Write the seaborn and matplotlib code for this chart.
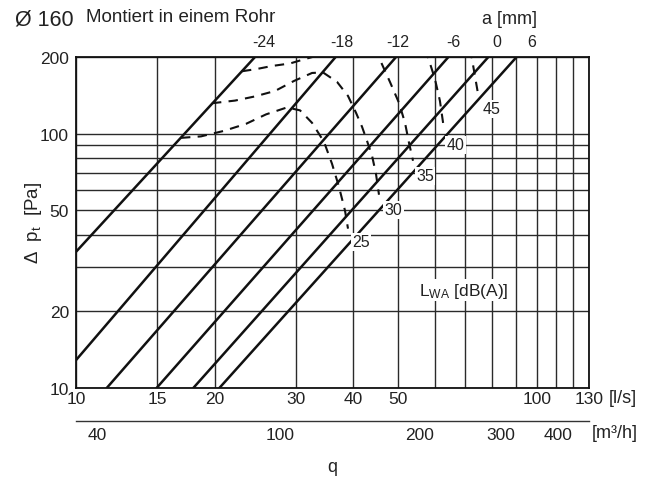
import numpy as np
import pandas as pd
import matplotlib
matplotlib.use("Agg")
import matplotlib.pyplot as plt
import seaborn as sns
from matplotlib.ticker import FixedLocator, FixedFormatter, NullFormatter

# ---------------- data ----------------
a_settings = ["-24", "-18", "-12", "-6", "0", "6"]
line_q_start = [10.0, 10.0, 11.66, 14.96, 17.97, 20.47]
line_dp_start = [34.3, 12.87, 10.0, 10.0, 10.0, 10.0]
line_q_end = [24.46, 36.6, 49.5, 64.3, 78.5, 90.4]
line_dp_end = [200.0, 200.0, 200.0, 200.0, 200.0, 200.0]
a_label_q = [25.5, 37.7, 50.0, 65.9, 81.8, 97.5]

lwa_levels = ["25", "30", "35", "40", "45"]
lwa25_q = [16.9, 18.67, 20.95, 23.38, 25.85, 28.7, 30.63, 32.53, 34.53, 35.94, 37.21, 38.35, 38.93]
lwa25_dp = [96.2, 97.5, 102.5, 109.2, 119.0, 126.7, 123.4, 110.2, 92.8, 76.1, 61.8, 49.8, 42.3]
lwa30_q = [19.73, 22.13, 24.46, 27.04, 29.72, 32.53, 34.36, 36.86, 38.93, 40.53, 41.76, 42.81, 43.9, 44.77, 45.45]
lwa30_dp = [131.6, 134.8, 140.0, 147.1, 161.0, 173.1, 173.9, 159.6, 140.6, 120.6, 106.3, 93.6, 81.8, 69.5, 57.5]
lwa35_q = [22.92, 24.71, 26.63, 29.13, 31.41, 33.18, 38.35, 45.22, 45.9, 48.01, 50.23, 51.76, 52.81, 53.87]
lwa35_dp = [175.8, 179.5, 184.4, 188.6, 196.4, 201.8, 224.9, 201.8, 191.2, 159.6, 132.0, 110.2, 91.9, 78.2]
lwa40_q = [57.47, 58.05, 60.11, 61.63, 62.88]
lwa40_dp = [215.0, 200.0, 163.9, 134.4, 104.4]
lwa45_q = [71.61, 72.34, 74.56]
lwa45_dp = [215.0, 196.4, 143.2]
lwa_label_q = [41.5, 48.8, 57.2, 66.5, 79.6]
lwa_label_dp = [37.6, 50.2, 68.3, 90.3, 125.0]

x_major = [10, 15, 20, 30, 40, 50, 100, 130]
x_minor = [60, 70, 80, 90, 110, 120]
y_major = [10, 20, 50, 100, 200]
y_minor = [30, 40, 60, 70, 80, 90]
m3h_labels = [40, 100, 200, 300, 400]
m3h_long = [40, 50, 100, 150, 200, 250, 300, 350, 400, 450]
m3h_short = [v for v in range(60, 470, 10) if v not in m3h_long]

# ---------------- style ----------------
sns.set_theme(style="white")
plt.rcParams["font.family"] = ["Liberation Sans", "DejaVu Sans"]
plt.rcParams["mathtext.fontset"] = "custom"
plt.rcParams["mathtext.rm"] = "Liberation Sans"
plt.rcParams["mathtext.it"] = "Liberation Sans"
TXT = "#222222"
LINE = "#111111"
FS = 12.5

W, H = 656, 485
fig = plt.figure(figsize=(W / 100, H / 100), dpi=100)
L, R, T, B = 76, 589.3, 58, 389
ax = fig.add_axes([L / W, 1 - B / H, (R - L) / W, (B - T) / H])
ax.set_xscale("log")
ax.set_yscale("log")
ax.set_xlim(10, 130)
ax.set_ylim(10, 200)

# grid
ax.xaxis.set_major_locator(FixedLocator(x_major))
ax.xaxis.set_minor_locator(FixedLocator(x_minor))
ax.xaxis.set_major_formatter(FixedFormatter([str(v) for v in x_major]))
ax.xaxis.set_minor_formatter(NullFormatter())
ax.yaxis.set_major_locator(FixedLocator(y_major))
ax.yaxis.set_minor_locator(FixedLocator(y_minor))
ax.yaxis.set_major_formatter(FixedFormatter([str(v) for v in y_major]))
ax.yaxis.set_minor_formatter(NullFormatter())
ax.grid(True, which="both", color="#2a2a2a", lw=1.0)
ax.set_axisbelow(True)
ax.tick_params(axis="both", which="both", length=0, labelsize=FS, colors=TXT)
ax.tick_params(axis="x", pad=2.0)
ax.tick_params(axis="y", pad=5)
for s in ax.spines.values():
    s.set_color("#111111")
    s.set_linewidth(1.3)

# solid setting lines
rows = []
for a, q0, p0, q1, p1 in zip(a_settings, line_q_start, line_dp_start, line_q_end, line_dp_end):
    rows.append({"a": a, "q": q0, "dp": p0, "o": 0})
    rows.append({"a": a, "q": q1, "dp": p1, "o": 1})
df_lines = pd.DataFrame(rows)
for a in a_settings:
    sub = df_lines[df_lines["a"] == a]
    sns.lineplot(data=sub, x="q", y="dp", ax=ax, color=LINE, lw=1.8,
                 estimator=None, sort=False, legend=False)

# dashed sound-level curves
curves = {"25": (lwa25_q, lwa25_dp), "30": (lwa30_q, lwa30_dp), "35": (lwa35_q, lwa35_dp),
          "40": (lwa40_q, lwa40_dp), "45": (lwa45_q, lwa45_dp)}
for lev in lwa_levels:
    qv, pv = curves[lev]
    dfc = pd.DataFrame({"q": qv, "dp": pv})
    sns.lineplot(data=dfc, x="q", y="dp", ax=ax, color=LINE, lw=1.5,
                 linestyle=(0, (4.5, 3.5)), estimator=None, sort=False, legend=False)

for lev, qx, py in zip(lwa_levels, lwa_label_q, lwa_label_dp):
    ax.text(qx, py, lev, ha="center", va="center", fontsize=11.5, color=TXT,
            bbox=dict(facecolor="white", edgecolor="none", pad=1.0), zorder=5)

ax.text(69.5, 24.2, r"L$_\mathrm{WA}$ [dB(A)]", ha="center", va="center", fontsize=FS,
        color=TXT, bbox=dict(facecolor="white", edgecolor="none", pad=1.0), zorder=5)

ax.set_xlabel("")
ax.set_ylabel("")

# top axis: damper setting a
axt = ax.twiny()
axt.set_xscale("log")
axt.set_xlim(10, 130)
axt.xaxis.set_major_locator(FixedLocator(a_label_q))
axt.xaxis.set_major_formatter(FixedFormatter(a_settings))
axt.xaxis.set_minor_locator(FixedLocator([]))
axt.tick_params(axis="x", which="both", length=0, labelsize=11.5, colors=TXT, pad=6)
for s in axt.spines.values():
    s.set_visible(False)

# m3/h secondary scale
ax2 = fig.add_axes([L / W, 1 - 421.7 / H, (R - L) / W, 0.0001])
ax2.set_xscale("log")
ax2.set_xlim(10 * 3.6, 130 * 3.6)
ax2.set_yticks([])
ax2.patch.set_alpha(0)
for k in ["top", "left", "right"]:
    ax2.spines[k].set_visible(False)
ax2.spines["bottom"].set_color("#333333")
ax2.spines["bottom"].set_linewidth(1.0)
ax2.xaxis.set_major_locator(FixedLocator(m3h_long))
ax2.xaxis.set_major_formatter(FixedFormatter([str(v) if v in m3h_labels else "" for v in m3h_long]))
ax2.xaxis.set_minor_locator(FixedLocator(m3h_short))
ax2.xaxis.set_minor_formatter(NullFormatter())
ax2.tick_params(axis="x", which="major", direction="in", length=4, width=1.0, color="#333333",
                labelsize=FS, labelcolor=TXT, pad=4.5)
ax2.tick_params(axis="x", which="minor", direction="in", length=2.5, width=1.0, color="#333333")

# texts
fig.text(15 / W, 1 - 20 / H, "Ø 160", fontsize=15.5, color=TXT, ha="left", va="center")
fig.text(86 / W, 1 - 17 / H, "Montiert in einem Rohr", fontsize=13.5, color=TXT, ha="left", va="center")
fig.text(510 / W, 1 - 19 / H, "a [mm]", fontsize=FS + 0.5, color=TXT, ha="center", va="center")
fig.text(609 / W, 1 - 399 / H, "[l/s]", fontsize=FS + 0.5, color=TXT, ha="left", va="center")
fig.text(592 / W, 1 - 434 / H, "[m³/h]", fontsize=FS + 0.5, color=TXT, ha="left", va="center")
fig.text(332 / W, 1 - 468 / H, "q", fontsize=FS + 0.5, color=TXT, ha="center", va="center")
fig.text(33 / W, 1 - 223 / H, r"Δ  p$_\mathrm{t}$  [Pa]", fontsize=13.5, color=TXT,
         ha="center", va="center", rotation=90)

fig.savefig("out.png", dpi=100)
